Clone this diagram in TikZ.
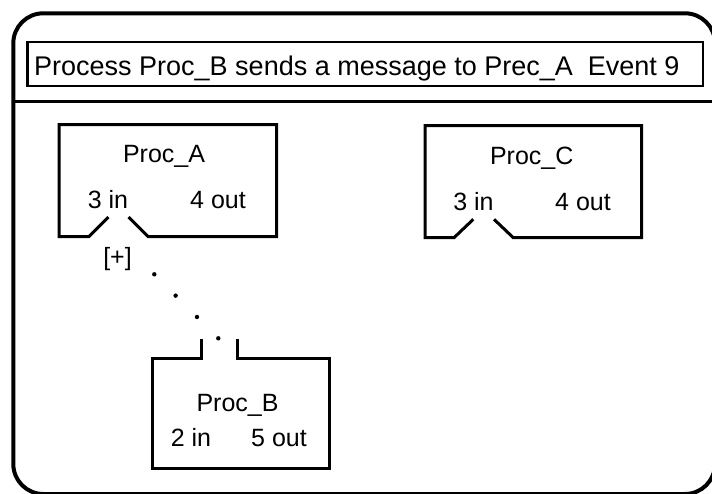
\documentclass[tikz,border=0pt]{standalone}
\usepackage{fontspec}
\setmainfont{Liberation Sans}
\usetikzlibrary{calc}

\begin{document}
\begin{tikzpicture}[x=1pt, y=-1pt,
  frame/.style={line width=4pt, rounded corners=30pt},
  divider/.style={line width=3pt},
  titlebox/.style={line width=2.2pt},
  procbox/.style={line width=3pt, line join=miter},
  label/.style={inner sep=0pt, anchor=base, font=\fontsize{25}{30}\selectfont},
  title/.style={inner sep=0pt, anchor=base west, font=\fontsize{27}{32}\selectfont},
  linkdot/.style={fill=black}
]
\useasboundingbox (0,0) rectangle (712,493);

% outer frame and header divider
\draw[frame] (13.3,13.3) rectangle (715,494);
\draw[divider] (13.3,101.7) -- (715,101.7);

% header
\draw[titlebox] (27.5,41.7) rectangle (703,86);
\node[title] (title) at (34,75) {Process Proc\_B sends a message to Prec\_A\ \ Event 9};

% Proc_A with an input notch on its bottom edge
\draw[procbox] (108.5,217) -- (89,236.5) -- (59,236.5) -- (59,124.5)
  -- (276.5,124.5) -- (276.5,236.5) -- (148,236.5) -- (128.5,217);
\node[label] (procA) at (164,162.7) {Proc\_A};
\node[label] (procAin) at (108,208.3) {3 in};
\node[label] (procAout) at (218,208.3) {4 out};
\node[label] (plus) at (117.5,265) {[+]};

% Proc_C with an input notch on its bottom edge
\draw[procbox] (473.3,219.3) -- (454,237.7) -- (425,237.7) -- (425,125.7)
  -- (641.7,125.7) -- (641.7,237.7) -- (513.3,237.7) -- (494,219.3);
\node[label] (procC) at (531.7,164) {Proc\_C};
\node[label] (procCin) at (473.5,210) {3 in};
\node[label] (procCout) at (583,210) {4 out};

% Proc_B with an output gap on its top edge
\draw[procbox] (201,339.3) -- (201,358.3) -- (152.3,358.3) -- (152.3,468.3)
  -- (329,468.3) -- (329,358.3) -- (237.7,358.3) -- (237.7,339.3);
\node[label] (procB) at (237.5,411.7) {Proc\_B};
\node[label] (procBin) at (191,446.7) {2 in};
\node[label] (procBout) at (279,446.7) {5 out};

% dotted message link from Proc_B up towards Proc_A
\coordinate (linkA) at (154.3,274.3);
\coordinate (linkB) at (218.3,338.3);
\foreach \t in {0,0.3333,0.6667,1}
  \fill[linkdot] ($(linkA)!\t!(linkB)$) circle (2.2pt);
\end{tikzpicture}
\end{document}
